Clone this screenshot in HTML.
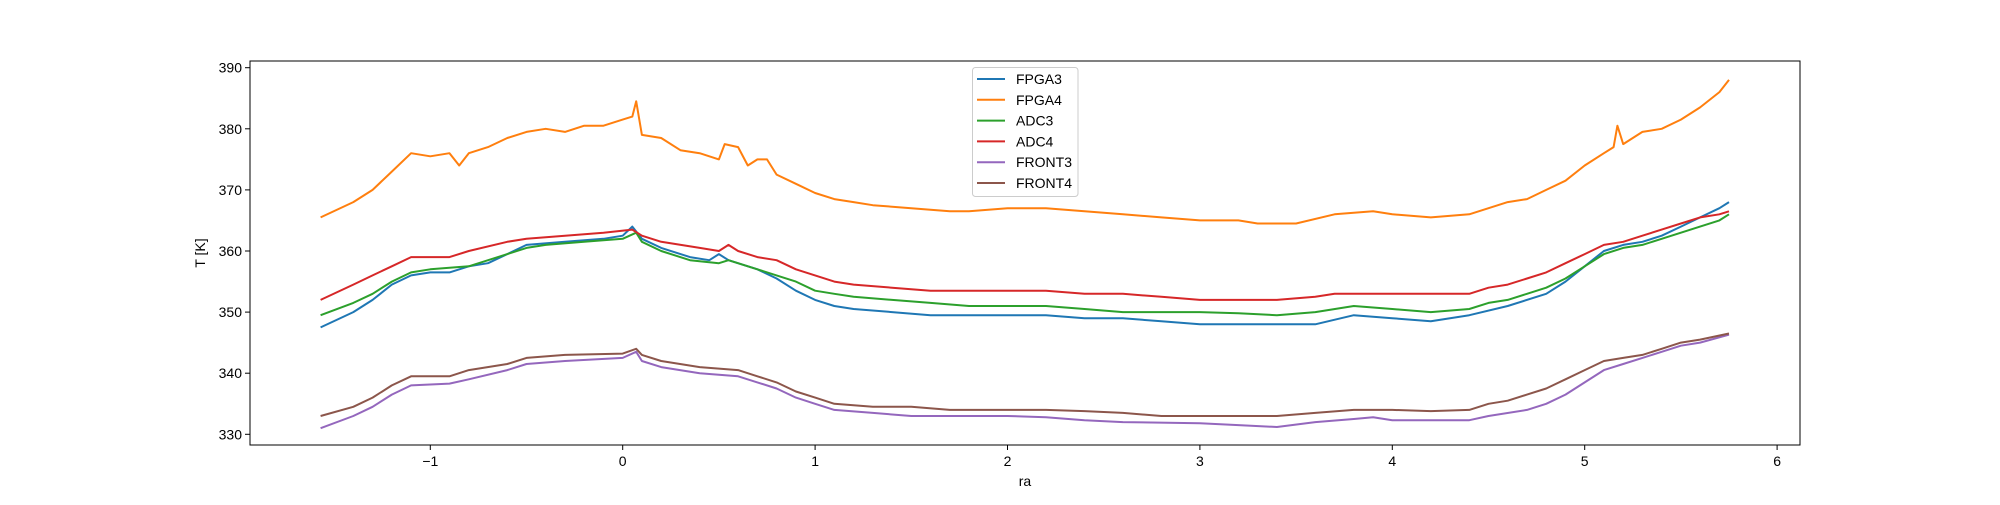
<!DOCTYPE html>
<html><head><meta charset="utf-8"><style>
html,body{margin:0;padding:0;background:#fff;}
svg text{font-family:"Liberation Sans","DejaVu Sans",sans-serif;font-size:14px;fill:#000;}
</style></head><body>
<svg id="chart" width="2000" height="500" viewBox="0 0 2000 500" xmlns="http://www.w3.org/2000/svg">
<rect x="0" y="0" width="2000" height="500" fill="#fff"/>
<g id="plot"></g>
<g id="axes"></g>
<g id="legend"></g>
</svg>
<script>
const seriesNames = ["FPGA3","FPGA4","ADC3","ADC4","FRONT3","FRONT4"];
const seriesColors = ["#1f77b4","#ff7f0e","#2ca02c","#d62728","#9467bd","#8c564b"];
const xTicks = [-1,0,1,2,3,4,5,6];
const xTickLabels = ["\u22121","0","1","2","3","4","5","6"];
const yTicks = [330,340,350,360,370,380,390];

const fpga3X = [-1.57,-1.4,-1.3,-1.2,-1.1,-1.0,-0.9,-0.8,-0.7,-0.6,-0.5,-0.3,-0.1,0,0.05,0.1,0.2,0.35,0.45,0.5,0.55,0.7,0.8,0.9,1.0,1.1,1.2,1.4,1.6,1.8,2.0,2.2,2.4,2.6,2.8,3.0,3.2,3.4,3.6,3.8,4.0,4.2,4.4,4.6,4.8,4.9,5.0,5.1,5.2,5.3,5.4,5.5,5.6,5.7,5.75];
const fpga3Y = [347.5,350,352,354.5,356,356.5,356.5,357.5,358,359.5,361,361.5,362,362.5,364,362,360.5,359,358.5,359.5,358.5,357,355.5,353.5,352,351,350.5,350,349.5,349.5,349.5,349.5,349,349,348.5,348,348,348,348,349.5,349,348.5,349.5,351,353,355,357.5,360,361,361.5,362.5,364,365.5,367,368];

const fpga4X = [-1.57,-1.4,-1.3,-1.2,-1.1,-1.0,-0.9,-0.85,-0.8,-0.7,-0.6,-0.5,-0.4,-0.3,-0.2,-0.1,0,0.05,0.07,0.1,0.2,0.3,0.4,0.5,0.53,0.6,0.65,0.7,0.75,0.8,0.9,1.0,1.1,1.2,1.3,1.5,1.7,1.8,2.0,2.2,2.4,2.6,2.8,3.0,3.2,3.3,3.5,3.7,3.9,4.0,4.2,4.4,4.5,4.6,4.7,4.8,4.9,5.0,5.1,5.15,5.17,5.2,5.3,5.4,5.5,5.6,5.7,5.75];
const fpga4Y = [365.5,368,370,373,376,375.5,376,374,376,377,378.5,379.5,380,379.5,380.5,380.5,381.5,382,384.5,379,378.5,376.5,376,375,377.5,377,374,375,375,372.5,371,369.5,368.5,368,367.5,367,366.5,366.5,367,367,366.5,366,365.5,365,365,364.5,364.5,366,366.5,366,365.5,366,367,368,368.5,370,371.5,374,376,377,380.5,377.5,379.5,380,381.5,383.5,386,388];

const adc3X = [-1.57,-1.4,-1.3,-1.2,-1.1,-1.0,-0.8,-0.6,-0.5,-0.4,-0.2,0,0.07,0.1,0.2,0.35,0.5,0.55,0.7,0.8,0.9,1.0,1.1,1.2,1.4,1.6,1.8,2.0,2.2,2.4,2.6,3.0,3.2,3.4,3.6,3.8,4.0,4.2,4.4,4.5,4.6,4.7,4.8,4.9,5.0,5.1,5.2,5.3,5.4,5.5,5.6,5.7,5.75];
const adc3Y = [349.5,351.5,353,355,356.5,357,357.5,359.5,360.5,361,361.5,362,363,361.5,360,358.5,358,358.5,357,356,355,353.5,353,352.5,352,351.5,351,351,351,350.5,350,350,349.8,349.5,350,351,350.5,350,350.5,351.5,352,353,354,355.5,357.5,359.5,360.5,361,362,363,364,365,366];

const adc4X = [-1.57,-1.4,-1.3,-1.2,-1.1,-0.9,-0.8,-0.6,-0.5,-0.3,-0.1,0.05,0.1,0.2,0.4,0.5,0.55,0.6,0.7,0.8,0.9,1.0,1.1,1.2,1.4,1.6,1.8,2.0,2.2,2.4,2.6,2.8,3.0,3.4,3.6,3.7,4.0,4.4,4.5,4.6,4.7,4.8,4.9,5.0,5.1,5.2,5.3,5.4,5.5,5.6,5.7,5.75];
const adc4Y = [352,354.5,356,357.5,359,359,360,361.5,362,362.5,363,363.5,362.5,361.5,360.5,360,361,360,359,358.5,357,356,355,354.5,354,353.5,353.5,353.5,353.5,353,353,352.5,352,352,352.5,353,353,353,354,354.5,355.5,356.5,358,359.5,361,361.5,362.5,363.5,364.5,365.5,366,366.5];

const front3X = [-1.57,-1.4,-1.3,-1.2,-1.1,-0.9,-0.8,-0.6,-0.5,-0.3,0,0.07,0.1,0.2,0.4,0.6,0.7,0.8,0.9,1.0,1.1,1.3,1.5,2.0,2.2,2.4,2.6,3.0,3.2,3.4,3.6,3.8,3.9,4.0,4.4,4.5,4.7,4.8,4.9,5.0,5.1,5.2,5.3,5.4,5.5,5.6,5.75];
const front3Y = [331,333,334.5,336.5,338,338.3,339,340.5,341.5,342,342.5,343.5,342,341,340,339.5,338.5,337.5,336,335,334,333.5,333,333,332.8,332.3,332,331.8,331.5,331.2,332,332.5,332.8,332.3,332.3,333,334,335,336.5,338.5,340.5,341.5,342.5,343.5,344.5,345,346.3];

const front4X = [-1.57,-1.4,-1.3,-1.2,-1.1,-0.9,-0.8,-0.6,-0.5,-0.3,0,0.07,0.1,0.2,0.4,0.6,0.7,0.8,0.9,1.0,1.1,1.3,1.5,1.7,2.0,2.2,2.4,2.6,2.8,3.0,3.4,3.6,3.8,4.0,4.2,4.4,4.5,4.6,4.7,4.8,4.9,5.0,5.1,5.2,5.3,5.4,5.5,5.6,5.75];
const front4Y = [333,334.5,336,338,339.5,339.5,340.5,341.5,342.5,343,343.2,344,343,342,341,340.5,339.5,338.5,337,336,335,334.5,334.5,334,334,334,333.8,333.5,333,333,333,333.5,334,334,333.8,334,335,335.5,336.5,337.5,339,340.5,342,342.5,343,344,345,345.5,346.5];

const seriesXs = [fpga3X,fpga4X,adc3X,adc4X,front3X,front4X];
const seriesYs = [fpga3Y,fpga4Y,adc3Y,adc4Y,front3Y,front4Y];

const NS = "http://www.w3.org/2000/svg";
const L = 250, R = 1800, T = 61, B = 445;
function xScale(v){ return 622.7 + 192.4 * v; }
function yScale(v){ return 434.3 - (v - 330) * 6.11; }
function mk(tag, attrs, parent){
  const e = document.createElementNS(NS, tag);
  for (const k in attrs) e.setAttribute(k, attrs[k]);
  parent.appendChild(e);
  return e;
}
const plot = document.getElementById('plot');
const axes = document.getElementById('axes');
const legend = document.getElementById('legend');

seriesNames.forEach((name, i) => {
  const xs = seriesXs[i], ys = seriesYs[i];
  const pts = xs.map((x, j) => xScale(x).toFixed(1) + ',' + yScale(ys[j]).toFixed(1)).join(' ');
  const pl = mk('polyline', {points: pts, fill: 'none', stroke: seriesColors[i], 'stroke-width': 2, 'stroke-linejoin': 'round'}, plot);
  
  
});

const frame = mk('rect', {x: L, y: T, width: R - L, height: B - T, fill: 'none', stroke: '#000', 'stroke-width': 1}, axes);



xTicks.forEach((t, i) => {
  const x = xScale(t);
  const tk = mk('line', {x1: x, x2: x, y1: B, y2: B + 5, stroke: '#000', 'stroke-width': 1}, axes);
  
  
  const tx = mk('text', {x: x, y: B + 21, 'text-anchor': 'middle'}, axes);
  tx.textContent = xTickLabels[i];
  
  
});
yTicks.forEach(t => {
  const y = yScale(t);
  const tk = mk('line', {x1: L - 5, x2: L, y1: y, y2: y, stroke: '#000', 'stroke-width': 1}, axes);
  
  
  const tx = mk('text', {x: L - 8, y: y + 5, 'text-anchor': 'end'}, axes);
  tx.textContent = String(t);
  
  
});
const xl = mk('text', {x: (L + R) / 2, y: 486, 'text-anchor': 'middle'}, axes);
xl.textContent = 'ra';


const yl = mk('text', {x: 0, y: 0, 'text-anchor': 'middle', transform: 'translate(205,253) rotate(-90)'}, axes);
yl.textContent = 'T [K]';



const lb = mk('rect', {x: 972.5, y: 67.5, width: 105.5, height: 129, rx: 3, fill: '#fff', 'fill-opacity': 0.8, stroke: '#ccc', 'stroke-width': 1}, legend);


seriesNames.forEach((name, i) => {
  const y = 79 + i * 20.8;
  const g = mk('g', {}, legend);
  
  
  mk('line', {x1: 977, x2: 1005, y1: y, y2: y, stroke: seriesColors[i], 'stroke-width': 2}, g);
  const t = mk('text', {x: 1016, y: y + 5}, g);
  t.textContent = name;
});
</script>
</body></html>
